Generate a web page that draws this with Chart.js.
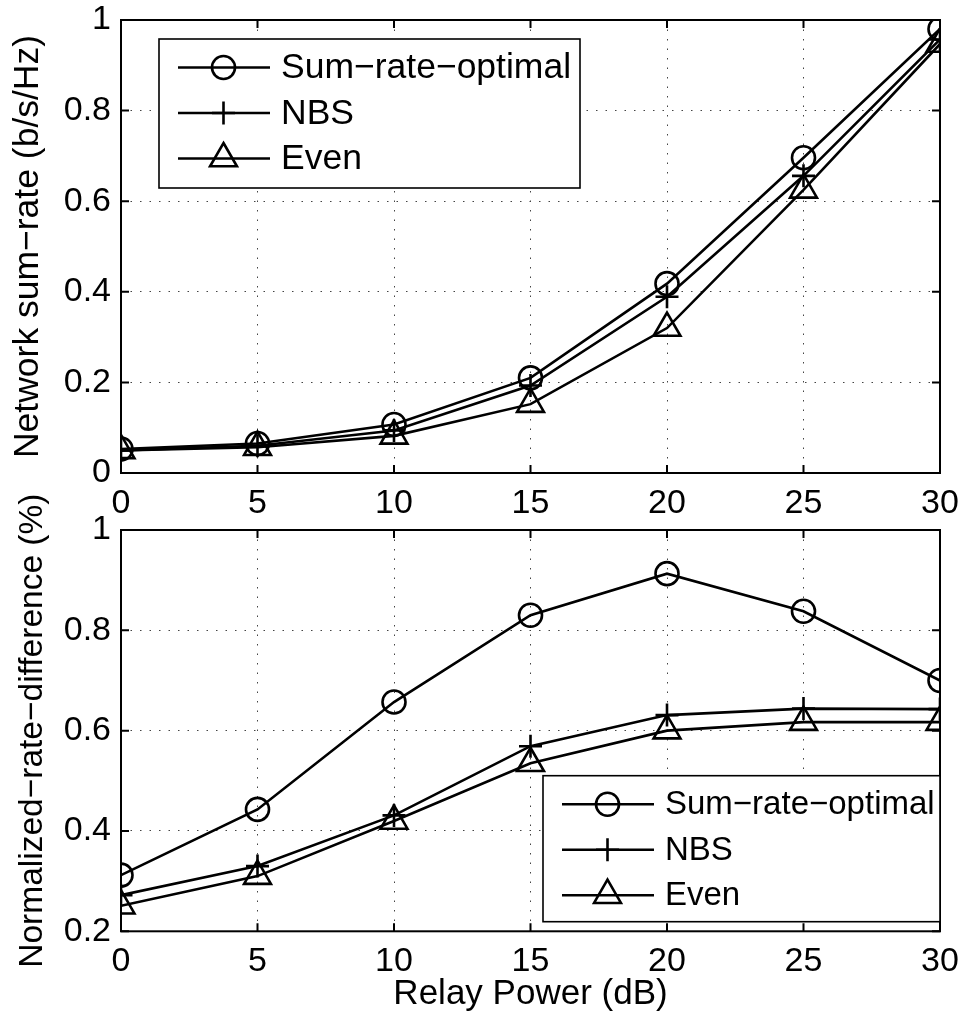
<!DOCTYPE html>
<html lang="en">
<head>
    <meta charset="UTF-8">
    <title>Relay Power vs Sum-rate</title>
    <script src="https://cdn.jsdelivr.net/npm/chart.js"></script>
    <style>
        html, body {
            margin: 0;
            padding: 0;
            background: #fff;
            width: 966px;
            height: 1034px;
            overflow: hidden;
        }
        .panel {
            position: absolute;
            left: 0;
            width: 966px;
        }
        #top-panel { top: 0; height: 525px; }
        #bottom-panel { top: 470px; height: 564px; }
    </style>
</head>
<body>
    <div class="panel" id="top-panel"><canvas id="rate-chart" width="966" height="525"></canvas></div>
    <div class="panel" id="bottom-panel"><canvas id="diff-chart" width="966" height="564"></canvas></div>

    <script>
        // relay power steps (dB) shared by both panels
        const relayPower = [0, 5, 10, 15, 20, 25, 30];
        const seriesNames = ['Sum\u2212rate\u2212optimal', 'NBS', 'Even'];
        const markerStyles = ['circle', 'cross', 'triangle'];
        const markerSizes = [11.5, 11.5, 15.5];

        // upper panel: network sum-rate (b/s/Hz)
        const rateOptimal = [0.053, 0.065, 0.107, 0.210, 0.418, 0.696, 0.980];
        const rateNBS     = [0.050, 0.060, 0.094, 0.193, 0.389, 0.656, 0.957];
        const rateEven    = [0.050, 0.057, 0.082, 0.152, 0.320, 0.625, 0.947];

        // lower panel: normalized rate difference
        const diffOptimal = [0.312, 0.443, 0.657, 0.830, 0.913, 0.838, 0.700];
        const diffNBS     = [0.272, 0.330, 0.431, 0.569, 0.631, 0.644, 0.643];
        const diffEven    = [0.251, 0.310, 0.420, 0.535, 0.600, 0.617, 0.617];

        const FONT = "'Liberation Sans', Arial, Helvetica, sans-serif";

        function makeDatasets(rows) {
            return rows.map((vals, i) => ({
                label: seriesNames[i],
                data: relayPower.map((x, j) => ({ x: x, y: vals[j] })),
                borderColor: '#000',
                backgroundColor: 'rgba(0,0,0,0)',
                borderWidth: 2.6,
                pointStyle: markerStyles[i],
                pointRadius: markerSizes[i],
                pointBorderWidth: 2.6,
                pointBorderColor: '#000',
                pointBackgroundColor: 'rgba(0,0,0,0)',
                tension: 0
            }));
        }

        // closed box around the plot area plus inward tick marks on all sides
        const boxPlugin = {
            id: 'boxTicks',
            afterDatasetsDraw(chart) {
                const { ctx, chartArea: ca, scales } = chart;
                ctx.save();
                ctx.strokeStyle = '#000';
                ctx.lineWidth = 2;
                ctx.strokeRect(ca.left, ca.top, ca.right - ca.left, ca.bottom - ca.top);
                const len = 8;
                ctx.beginPath();
                scales.x.ticks.forEach(t => {
                    const px = scales.x.getPixelForValue(t.value);
                    ctx.moveTo(px, ca.bottom); ctx.lineTo(px, ca.bottom - len);
                    ctx.moveTo(px, ca.top); ctx.lineTo(px, ca.top + len);
                });
                scales.y.ticks.forEach(t => {
                    const py = scales.y.getPixelForValue(t.value);
                    ctx.moveTo(ca.left, py); ctx.lineTo(ca.left + len, py);
                    ctx.moveTo(ca.right, py); ctx.lineTo(ca.right - len, py);
                });
                ctx.stroke();
                ctx.restore();
            }
        };

        // boxed legend with line + marker samples, placed inside the plot
        const boxLegend = {
            id: 'boxLegend',
            afterDraw(chart, args, opts) {
                const { ctx, chartArea: ca } = chart;
                const w = opts.width, h = opts.height;
                const left = opts.anchor === 'topLeft' ? ca.left + opts.dx : ca.right - w;
                const top = opts.anchor === 'topLeft' ? ca.top + opts.dy : ca.bottom - opts.dy - h;
                ctx.save();
                ctx.fillStyle = '#fff';
                ctx.fillRect(left, top, w, h);
                ctx.strokeStyle = '#000';
                ctx.lineWidth = 1.6;
                ctx.strokeRect(left, top, w, h);
                chart.data.datasets.forEach((ds, i) => {
                    const y = top + 28.5 + i * 45.5;
                    ctx.lineWidth = 2.6;
                    ctx.strokeStyle = '#000';
                    ctx.beginPath();
                    ctx.moveTo(left + 19, y);
                    ctx.lineTo(left + 111, y);
                    ctx.stroke();
                    ctx.fillStyle = 'rgba(0,0,0,0)';
                    Chart.helpers.drawPoint(ctx, {
                        pointStyle: ds.pointStyle,
                        radius: ds.pointRadius,
                        rotation: 0,
                        borderWidth: 2.6
                    }, left + 64.5, y);
                    ctx.fillStyle = '#000';
                    ctx.font = opts.fontSize + 'px ' + FONT;
                    ctx.textAlign = 'left';
                    ctx.textBaseline = 'middle';
                    ctx.fillText(ds.label, left + 122, y + 1);
                });
                ctx.restore();
            }
        };

        // plain tick text: 0, 0.2, ... 1
        const tickText = v => String(Number(v.toFixed(1)));

        function makeChart(canvasId, rows, yMin, yTitle, opts) {
            const tickFont = { family: FONT, size: 34 };
            const titleFont = { family: FONT, size: 35 };
            return new Chart(document.getElementById(canvasId), {
                type: 'line',
                data: { datasets: makeDatasets(rows) },
                plugins: [boxPlugin, boxLegend],
                options: {
                    responsive: false,
                    animation: false,
                    devicePixelRatio: 1,
                    layout: { padding: { left: 0, right: 26, top: opts.padTop, bottom: 0 } },
                    plugins: {
                        legend: { display: false },
                        tooltip: { enabled: false },
                        boxLegend: opts.legend
                    },
                    scales: {
                        x: {
                            type: 'linear',
                            min: 0,
                            max: 30,
                            ticks: { stepSize: 5, color: '#000', font: tickFont, padding: 10, maxRotation: 0, callback: tickText },
                            grid: { color: '#444', lineWidth: 1, drawTicks: false, borderDash: [1.5, 8] },
                            border: { display: false, dash: [1.5, 8] },
                            title: {
                                display: !!opts.xTitle,
                                text: opts.xTitle || '',
                                color: '#000',
                                font: titleFont,
                                padding: { top: 0, bottom: 19 }
                            },
                            afterFit(scale) {
                                scale.height = opts.xHeight;
                                scale.paddingLeft = 0; scale.paddingRight = 0;
                                scale.paddingTop = 0; scale.paddingBottom = 0;
                            }
                        },
                        y: {
                            min: yMin,
                            max: 1,
                            ticks: { stepSize: 0.2, color: '#000', font: tickFont, padding: 10, callback: tickText },
                            grid: { color: '#444', lineWidth: 1, drawTicks: false, borderDash: [1.5, 8] },
                            border: { display: false, dash: [1.5, 8] },
                            title: {
                                display: true,
                                text: yTitle,
                                color: '#000',
                                font: { family: FONT, size: opts.yTitleSize },
                                padding: { top: opts.yTitlePad, bottom: 0 }
                            },
                            afterFit(scale) {
                                scale.width = 121;
                                scale.paddingLeft = 0; scale.paddingRight = 0;
                                scale.paddingTop = 0; scale.paddingBottom = 0;
                            }
                        }
                    }
                }
            });
        }

        makeChart('rate-chart', [rateOptimal, rateNBS, rateEven], 0,
            'Network sum\u2212rate (b/s/Hz)', {
                padTop: 20,
                xHeight: 52,
                yTitleSize: 35.5,
                yTitlePad: 6.5,
                legend: { anchor: 'topLeft', dx: 38, dy: 19, width: 421, height: 149, fontSize: 35.5 }
            });

        makeChart('diff-chart', [diffOptimal, diffNBS, diffEven], 0.2,
            'Normalized\u2212rate\u2212difference (%)', {
                padTop: 60,
                xHeight: 102.7,
                yTitleSize: 33.5,
                yTitlePad: 12.5,
                xTitle: 'Relay Power (dB)',
                legend: { anchor: 'bottomRight', dy: 9.6, width: 397, height: 146, fontSize: 33 }
            });
    </script>
</body>
</html>
